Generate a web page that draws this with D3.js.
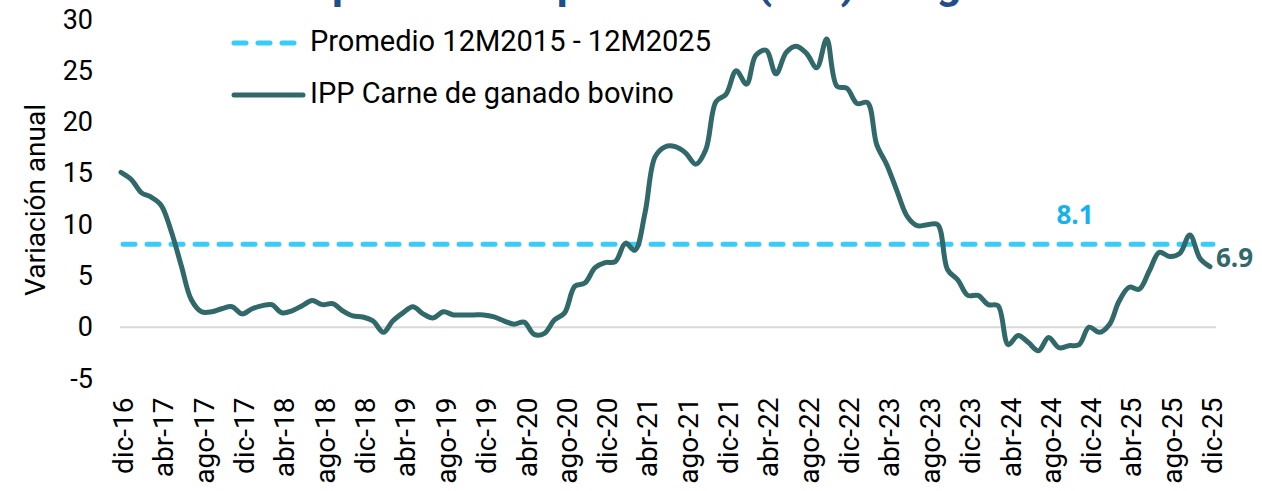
<!DOCTYPE html>
<html>
<head>
<meta charset="utf-8">
<script src="https://cdn.jsdelivr.net/npm/d3@7"></script>
<style>
  body { margin: 0; background: #fff; }
  svg { display: block; font-family: Roboto, "Noto Sans", sans-serif; }
</style>
</head>
<body>
<svg id="chart" width="1262" height="491"></svg>
<script>
// monthly data, dic-16 .. dic-25
const startMonth = new Date(2016, 11, 1);
const endMonth = new Date(2025, 11, 1);

const ippCarne = [
  15.1, 14.4, 13.1, 12.7, 11.9, 9.4, 6.0, 2.7, 1.5, 1.5, 1.8, 2.0,
  1.3, 1.8, 2.1, 2.2, 1.4, 1.6, 2.1, 2.6, 2.2, 2.3, 1.6, 1.1,
  1.0, 0.6, -0.5, 0.6, 1.4, 2.0, 1.3, 0.9, 1.5, 1.2, 1.2, 1.2,
  1.2, 1.0, 0.6, 0.3, 0.5, -0.7, -0.6, 0.7, 1.4, 4.0, 4.3, 5.8,
  6.3, 6.4, 8.2, 7.5, 11.2, 16.6, 17.6, 17.6, 17.0, 15.9, 17.3, 22.0,
  22.7, 25.0, 23.7, 26.5, 27.0, 24.7, 26.8, 27.4, 26.7, 25.3, 28.1, 23.5,
  23.3, 21.8, 21.9, 17.8, 15.8, 13.3, 10.8, 9.9, 10.0, 10.0, 5.6, 4.6,
  3.1, 3.1, 2.2, 2.1, -1.7, -0.8, -1.5, -2.3, -1.0, -2.0, -1.8, -1.7,
  0.0, -0.5, 0.3, 2.5, 3.9, 3.7, 5.5, 7.3, 6.9, 7.2, 9.0, 6.7,
  5.9
];
const promedio = 8.1;

const tickLabels = [
  'dic-16', 'abr-17', 'ago-17', 'dic-17', 'abr-18', 'ago-18', 'dic-18',
  'abr-19', 'ago-19', 'dic-19', 'abr-20', 'ago-20', 'dic-20', 'abr-21',
  'ago-21', 'dic-21', 'abr-22', 'ago-22', 'dic-22', 'abr-23', 'ago-23',
  'dic-23', 'abr-24', 'ago-24', 'dic-24', 'abr-25', 'ago-25', 'dic-25'
];
const yTicks = [-5, 0, 5, 10, 15, 20, 25, 30];

const seriesNames = ['Promedio 12M2015 - 12M2025', 'IPP Carne de ganado bovino'];
const labelPromedio = '8.1';
const labelUltimo = '6.9';
const titleText = 'Índice de precios del productor (IPP) del ganado bovino';

const colLine = '#31696a';
const colAvg = '#38ccfb';

const svg = d3.select('#chart');
const marginLeft = 121, marginRight = 52, plotTop = 19.5, plotBottom = 378.5;
const width = 1262;

const months = d3.timeMonth.range(startMonth, d3.timeMonth.offset(endMonth, 1));
const data = months.map((d, i) => ({ date: d, value: ippCarne[i] }));

const x = d3.scaleTime().domain([startMonth, endMonth]).range([marginLeft, width - marginRight]);
const y = d3.scaleLinear().domain([-5, 30]).range([plotBottom, plotTop]);

// title, mostly cut off by the top edge: only descenders show
const title = svg.append('text')
  .attr('y', -2)
  .attr('font-size', 42)
  .attr('font-weight', 700)
  .attr('fill', '#1f4e89')
  .text(titleText);
const iP = titleText.indexOf('p'), iParen = titleText.indexOf('(');
const tn = title.node();
const span = tn.getSubStringLength(iP, iParen - iP);
const fs = 42 * 425 / span;
title.attr('font-size', fs).attr('y', -0.05 * fs);
title.attr('x', 757 - tn.getSubStringLength(0, iParen));

// zero gridline
svg.append('line')
  .attr('x1', marginLeft - 1).attr('x2', width - marginRight + 6)
  .attr('y1', y(0)).attr('y2', y(0))
  .attr('stroke', '#d9d9d9').attr('stroke-width', 2);

// y axis
const yAxis = svg.append('g')
  .attr('transform', `translate(${marginLeft},0)`)
  .call(d3.axisLeft(y).tickValues(yTicks).tickSize(0).tickPadding(28)
    .tickFormat(d => String(d)));
yAxis.select('.domain').remove();
yAxis.selectAll('text').attr('font-size', 27).attr('font-family', 'Roboto').attr('fill', '#000');

svg.append('text')
  .attr('transform', 'translate(38,200) rotate(-90)')
  .attr('text-anchor', 'middle')
  .attr('dominant-baseline', 'middle')
  .attr('font-size', 28)
  .attr('fill', '#000')
  .text('Variación anual');

// x axis
const tickDates = tickLabels.map((_, i) => d3.timeMonth.offset(startMonth, i * 4));
const xAxis = svg.append('g')
  .attr('transform', `translate(0,${plotBottom})`)
  .call(d3.axisBottom(x).tickValues(tickDates).tickSize(0)
    .tickFormat((d, i) => tickLabels[i]));
xAxis.select('.domain').remove();
xAxis.selectAll('text')
  .attr('font-size', 28)
  .attr('font-family', 'Roboto')
  .attr('fill', '#000')
  .attr('text-anchor', 'end')
  .attr('transform', 'rotate(-90)')
  .attr('x', -19)
  .attr('y', 2)
  .attr('dy', '0.35em');

// average line
svg.append('line')
  .attr('x1', x(startMonth) + 2).attr('x2', x(endMonth) + 3)
  .attr('y1', y(promedio)).attr('y2', y(promedio))
  .attr('stroke', colAvg).attr('stroke-width', 5)
  .attr('stroke-linecap', 'round')
  .attr('stroke-dasharray', '12 12');

// series line
const line = d3.line()
  .x(d => x(d.date))
  .y(d => y(d.value))
  .curve(d3.curveCatmullRom.alpha(0.5));

svg.append('path')
  .datum(data)
  .attr('d', line)
  .attr('fill', 'none')
  .attr('stroke', colLine)
  .attr('stroke-width', 5)
  .attr('stroke-linejoin', 'round')
  .attr('stroke-linecap', 'round');

// value labels
svg.append('text')
  .attr('x', 1075).attr('y', y(promedio) - 27)
  .attr('text-anchor', 'middle')
  .attr('dominant-baseline', 'middle')
  .attr('font-family', '"Open Sans"')
  .attr('font-weight', 700)
  .attr('font-size', 26)
  .attr('fill', '#13b3ef')
  .text(labelPromedio);

const last = data[data.length - 1];
svg.append('text')
  .attr('x', x(last.date) + 6).attr('y', y(last.value) - 7)
  .attr('dominant-baseline', 'middle')
  .attr('font-family', '"Open Sans"')
  .attr('font-weight', 700)
  .attr('font-size', 26)
  .attr('fill', colLine)
  .text(labelUltimo);

// legend
const legend = svg.append('g');
legend.append('line')
  .attr('x1', 234).attr('x2', 296).attr('y1', 43).attr('y2', 43)
  .attr('stroke', colAvg).attr('stroke-width', 5)
  .attr('stroke-linecap', 'round').attr('stroke-dasharray', '12 12');
legend.append('line')
  .attr('x1', 234).attr('x2', 303).attr('y1', 95).attr('y2', 95)
  .attr('stroke', colLine).attr('stroke-width', 5)
  .attr('stroke-linecap', 'round');
legend.selectAll('text.lg')
  .data(seriesNames)
  .join('text')
  .attr('class', 'lg')
  .attr('x', 310)
  .attr('y', (d, i) => 43 + i * 52)
  .attr('dominant-baseline', 'middle')
  .attr('font-size', 29)
  .attr('fill', '#000')
  .text(d => d);
</script>
</body>
</html>
